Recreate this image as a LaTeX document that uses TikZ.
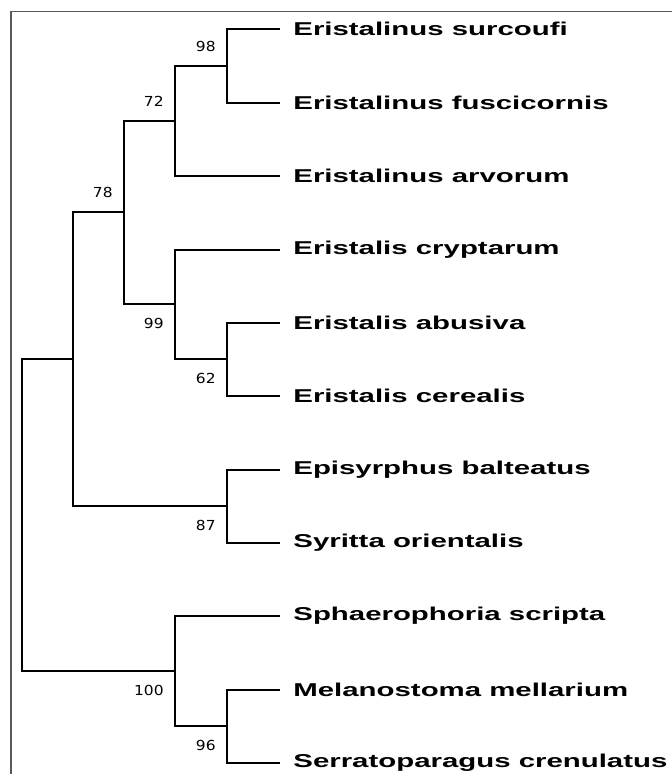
\documentclass[tikz,border=0pt]{standalone}
\usepackage{fontspec}
\newfontfamily\leaffont[FakeStretch=1.58]{Liberation Sans}
\newfontfamily\bootfont[FakeStretch=1.12]{DejaVu Sans}
\tikzset{
  leaf/.style={anchor=west, inner xsep=7pt, inner ysep=0pt, font=\leaffont\bfseries\fontsize{9.3}{11}\selectfont},
  branch/.style={line width=1pt, line cap=rect},
  bootup/.style={anchor=south east, inner sep=0pt, xshift=-5.5pt, yshift=7pt, font=\bootfont\fontsize{6.9}{8}\selectfont},
  bootdown/.style={anchor=north east, inner sep=0pt, xshift=-5.5pt, yshift=-7pt, font=\bootfont\fontsize{6.9}{8}\selectfont}
}
\begin{document}
\begin{tikzpicture}[x=0.5pt, y=-0.5pt]
  \useasboundingbox (0,0) rectangle (672,774);
  % Frame (only top and left edges visible)
  \draw [gray!70!black, line width=0.75pt] (11,774) -- (11,11.5) -- (672,11.5);

  % Leaves
  \node [leaf] (surcoufi) at (279,29) {Eristalinus surcoufi};
  \node [leaf] (fuscicornis) at (279,103) {Eristalinus fuscicornis};
  \node [leaf] (arvorum) at (279,176) {Eristalinus arvorum};
  \node [leaf] (cryptarum) at (279,250) {Eristalis cryptarum};
  \node [leaf] (abusiva) at (279,323) {Eristalis abusiva};
  \node [leaf] (cerealis) at (279,396) {Eristalis cerealis};
  \node [leaf] (balteatus) at (279,470) {Episyrphus balteatus};
  \node [leaf] (orientalis) at (279,543) {Syritta orientalis};
  \node [leaf] (scripta) at (279,616) {Sphaerophoria scripta};
  \node [leaf] (mellarium) at (279,690) {Melanostoma mellarium};
  \node [leaf] (crenulatus) at (279,763) {Serratoparagus crenulatus};

  % Internal nodes
  \coordinate (n98) at (227,66);
  \coordinate (n72) at (175,121);
  \coordinate (n62) at (227,359);
  \coordinate (n99) at (175,304);
  \coordinate (n78) at (124,212);
  \coordinate (n87) at (227,506);
  \coordinate (nA) at (73,359);
  \coordinate (n96) at (227,726);
  \coordinate (n100) at (175,671);
  \coordinate (root) at (22,515);

  % Branches
  \draw [branch] (surcoufi.west) -| (n98) |- (fuscicornis.west);
  \draw [branch] (n98) -| (n72) |- (arvorum.west);
  \draw [branch] (abusiva.west) -| (n62) |- (cerealis.west);
  \draw [branch] (cryptarum.west) -| (n99) |- (n62);
  \draw [branch] (n72) -| (n78) |- (n99);
  \draw [branch] (balteatus.west) -| (n87) |- (orientalis.west);
  \draw [branch] (n78) -| (nA) |- (n87);
  \draw [branch] (mellarium.west) -| (n96) |- (crenulatus.west);
  \draw [branch] (scripta.west) -| (n100) |- (n96);
  \draw [branch] (nA) -| (root) |- (n100);

  % Bootstrap values
  \node [bootup] (b98) at (n98) {98};
  \node [bootup] (b72) at (n72) {72};
  \node [bootup] (b78) at (n78) {78};
  \node [bootdown] (b99) at (n99) {99};
  \node [bootdown] (b62) at (n62) {62};
  \node [bootdown] (b87) at (n87) {87};
  \node [bootdown] (b100) at (n100) {100};
  \node [bootdown] (b96) at (n96) {96};
\end{tikzpicture}
\end{document}
